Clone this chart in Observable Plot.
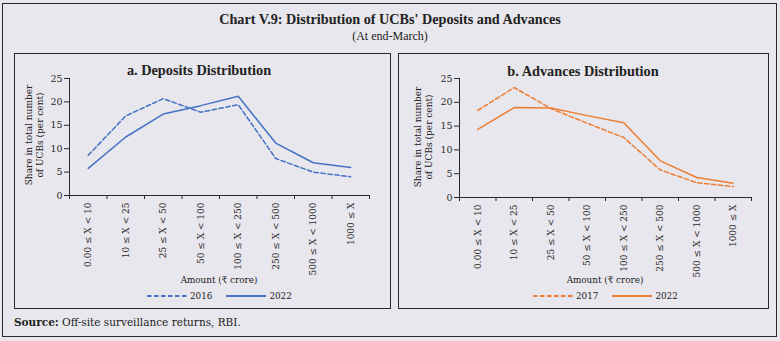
<!DOCTYPE html>
<html>
<head>
<meta charset="utf-8">
<script src="https://cdn.jsdelivr.net/npm/d3@7"></script>
<script src="https://cdn.jsdelivr.net/npm/@observablehq/plot@0.6"></script>
<style>
  html, body { margin: 0; padding: 0; }
  body { width: 780px; height: 341px; overflow: hidden; background: #e8e7ed; }
  #wrap { position: relative; width: 780px; height: 341px; background: #e8e7ed; font-family: "DejaVu Serif", serif; color: #222; }
  .frame { position: absolute; border: 1px solid #2a2a2a; box-sizing: border-box; }
  .ctr { position: absolute; transform: translate(-50%, -50%); white-space: nowrap; }
  .title { font-family: "Liberation Serif", serif; font-weight: bold; font-size: 14.2px; }
  .subtitle { font-family: "Liberation Serif", serif; font-size: 12px; }
  .ptitle { font-family: "Liberation Serif", serif; font-weight: bold; font-size: 14.3px; }
  .ytitle { font-size: 9px; line-height: 11px; text-align: center; transform: translate(-50%, -50%) rotate(-90deg); }
  .xtitle { font-size: 8.8px; }
  .legend { position: absolute; font-size: 8.8px; display: flex; align-items: center; white-space: nowrap; transform: translateY(-50%); }
  .legend svg { display: block; }
  .source { position: absolute; left: 14px; top: 316px; font-size: 10.5px; white-space: nowrap; }
</style>
</head>
<body>
<div id="wrap"></div>
<script>
// ---- data ----
const categories = ["0.00 \u2264 X < 10", "10 \u2264 X < 25", "25 \u2264 X < 50", "50 \u2264 X < 100",
  "100 \u2264 X < 250", "250 \u2264 X < 500", "500 \u2264 X < 1000", "1000 \u2264 X"];
const deposits2016 = [8.6, 17.0, 20.7, 17.8, 19.4, 7.9, 5.0, 4.0];
const deposits2022 = [5.8, 12.5, 17.4, 19.2, 21.2, 11.2, 7.0, 6.0];
const advances2017 = [18.3, 23.1, 18.7, 15.6, 12.6, 5.8, 3.1, 2.3];
const advances2022 = [14.3, 18.9, 18.8, 17.2, 15.7, 7.7, 4.2, 3.0];
const yTicks = [0, 5, 10, 15, 20, 25];
const blue = "#4472c4";
const orange = "#ed7d31";

const wrap = document.getElementById("wrap");
function add(html) { wrap.insertAdjacentHTML("beforeend", html); }

// outer frame and panel frames
add(`<div class="frame" style="left:2px;top:3px;width:775px;height:334px;border-width:1.5px"></div>`);
add(`<div class="frame" style="left:14px;top:53px;width:377px;height:256px"></div>`);
add(`<div class="frame" style="left:398px;top:53px;width:371px;height:256px"></div>`);

add(`<div class="ctr title" style="left:390px;top:19px">Chart V.9: Distribution of UCBs' Deposits and Advances</div>`);
add(`<div class="ctr subtitle" style="left:390px;top:36px">(At end-March)</div>`);

function panel(opts) {
  const {left, top, width, height, mL, mR, mT, mB, color, s1, s2} = opts;
  const n = categories.length;
  const rows1 = s1.map((v, i) => ({i, v}));
  const rows2 = s2.map((v, i) => ({i, v}));
  const chart = Plot.plot({
    width, height,
    marginLeft: mL, marginRight: mR, marginTop: mT, marginBottom: mB,
    style: {background: "transparent", fontFamily: "DejaVu Serif", fontSize: "9px", color: "#2a2a2a", overflow: "visible"},
    x: {domain: [0, n], axis: null},
    y: {domain: [0, 25], axis: null},
    marks: [
      Plot.axisY({ticks: yTicks, tickSize: 5, tickPadding: 2, label: null, fontSize: 9.5}),
      Plot.ruleX([0], {y1: 0, y2: 25, stroke: "#2a2a2a"}),
      Plot.ruleY([0], {stroke: "#2a2a2a"}),
      Plot.axisX({ticks: d3.range(0, n + 1), tickFormat: () => "", tickSize: 4, label: null}),
      Plot.axisX({ticks: d3.range(0, n).map(i => i + 0.5), tickFormat: t => categories[Math.floor(t)],
        tickSize: 0, tickPadding: 7, tickRotate: -90, label: null, fontSize: 9}),
      Plot.line(rows1, {x: d => d.i + 0.5, y: "v", stroke: color, strokeWidth: 1.5, strokeDasharray: "4.5,2.5"}),
      Plot.line(rows2, {x: d => d.i + 0.5, y: "v", stroke: color, strokeWidth: 1.5})
    ]
  });
  chart.style.position = "absolute";
  chart.style.left = left + "px";
  chart.style.top = top + "px";
  chart.style.maxWidth = "none";
  wrap.appendChild(chart);
}

panel({left: 14, top: 53, width: 376, height: 255, mL: 55, mR: 21, mT: 25, mB: 113, color: blue, s1: deposits2016, s2: deposits2022});
panel({left: 398, top: 53, width: 370, height: 255, mL: 61, mR: 17, mT: 25, mB: 111, color: orange, s1: advances2017, s2: advances2022});

add(`<div class="ctr ptitle" style="left:199px;top:70px">a. Deposits Distribution</div>`);
add(`<div class="ctr ptitle" style="left:583px;top:71px">b. Advances Distribution</div>`);

add(`<div class="ctr ytitle" style="left:34.5px;top:135px">Share in total number<br>of UCBs (per cent)</div>`);
add(`<div class="ctr ytitle" style="left:424px;top:137px">Share in total number<br>of UCBs (per cent)</div>`);

add(`<div class="ctr xtitle" style="left:219px;top:280px">Amount (\u20b9 crore)</div>`);
add(`<div class="ctr xtitle" style="left:605px;top:280px">Amount (\u20b9 crore)</div>`);

function legend(left, top, color, labels) {
  const seg = (dash) => `<svg width="40" height="4"><line x1="0" y1="2" x2="40" y2="2" stroke="${color}" stroke-width="2" ${dash ? 'stroke-dasharray="4.5,2.5"' : ''}/></svg>`;
  add(`<div class="legend" style="left:${left}px;top:${top}px">${seg(true)}<span style="margin-left:3px;margin-right:14px">${labels[0]}</span>${seg(false)}<span style="margin-left:3px">${labels[1]}</span></div>`);
}
legend(147, 296, blue, ["2016", "2022"]);
legend(533, 296, orange, ["2017", "2022"]);

add(`<div class="source"><b>Source:</b> Off-site surveillance returns, RBI.</div>`);
</script>
</body>
</html>
